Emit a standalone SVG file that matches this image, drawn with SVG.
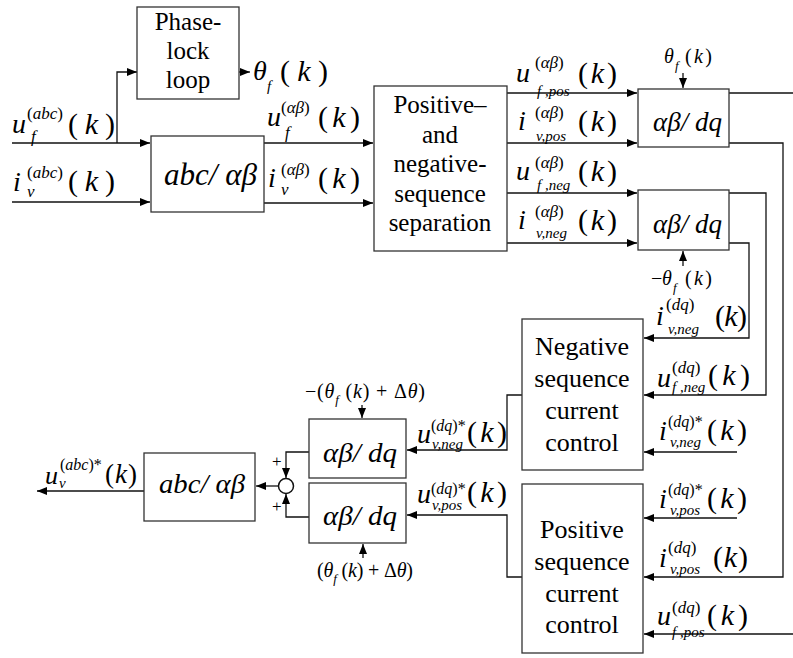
<svg xmlns="http://www.w3.org/2000/svg" width="793" height="658" viewBox="0 0 793 658">
<defs>
<marker id="ah" markerUnits="userSpaceOnUse" markerWidth="10" markerHeight="8" refX="10" refY="4" orient="auto">
<path d="M0,0 L10,4 L0,8 z" fill="#000"/>
</marker>
</defs>

<g id="connectors" fill="none" stroke="#111" stroke-width="1.3">
<g marker-end="url(#ah)">
<path d="M12,143 H150"/>
<path d="M117,143 V72 H137"/>
<path d="M12,202 H150"/>
<path d="M239,72 H250"/>
<path d="M264,143 H373"/>
<path d="M264,203 H373"/>
<path d="M507,93 H637"/>
<path d="M507,143 H637"/>
<path d="M507,193 H637"/>
<path d="M507,243 H637"/>
<path d="M683,73 V88"/>
<path d="M683,266 V251"/>
<path d="M729,143 H783 V577 H644"/>
<path d="M729,193 H766 V395 H644"/>
<path d="M729,243 H749 V338 H644"/>
<path d="M737,452 H644"/>
<path d="M737,518 H644"/>
<path d="M793,634 H644"/>
<path d="M522,395 H507 V450 H407"/>
<path d="M522,577 H507 V515 H407"/>
<path d="M362,405 V418"/>
<path d="M363,558 V544"/>
<path d="M309,452 H286 V478"/>
<path d="M309,517 H286 V494"/>
<path d="M278,486 H256"/>
<path d="M144,491 H37"/>
</g>
<path d="M729,93 H793"/>
</g>

<g id="pll">
<rect fill="#fff" stroke="#333" stroke-width="1.3" x="137" y="7" width="102" height="92"/>
<text font-family="serif" font-size="25" text-anchor="middle" x="188" y="30">Phase-</text>
<text font-family="serif" font-size="25" text-anchor="middle" x="188" y="59">lock</text>
<text font-family="serif" font-size="25" text-anchor="middle" x="188" y="88">loop</text>
</g>

<g id="abc1">
<rect fill="#fff" stroke="#333" stroke-width="1.3" x="151" y="136" width="113" height="76"/>
<text font-family="serif" font-style="italic" x="164" y="185" font-size="32" textLength="93" lengthAdjust="spacingAndGlyphs">abc/ αβ</text>
</g>

<g id="sep">
<rect fill="#fff" stroke="#333" stroke-width="1.3" x="374" y="86" width="133" height="165"/>
<text font-family="serif" font-size="25" text-anchor="middle" x="440" y="113">Positive–</text>
<text font-family="serif" font-size="25" text-anchor="middle" x="440" y="142.5">and</text>
<text font-family="serif" font-size="25" text-anchor="middle" x="440" y="172">negative-</text>
<text font-family="serif" font-size="25" text-anchor="middle" x="440" y="201.5">sequence</text>
<text font-family="serif" font-size="25" text-anchor="middle" x="440" y="231">separation</text>
</g>

<g id="dq1">
<rect fill="#fff" stroke="#333" stroke-width="1.3" x="638" y="89" width="91" height="58"/>
<text font-family="serif" font-style="italic" x="653" y="131" font-size="27" textLength="69" lengthAdjust="spacingAndGlyphs">αβ/ dq</text>
</g>
<g id="dq2">
<rect fill="#fff" stroke="#333" stroke-width="1.3" x="638" y="190" width="91" height="60"/>
<text font-family="serif" font-style="italic" x="653" y="233" font-size="27" textLength="69" lengthAdjust="spacingAndGlyphs">αβ/ dq</text>
</g>

<g id="negcc">
<rect fill="#fff" stroke="#333" stroke-width="1.3" x="522" y="319" width="121" height="151"/>
<text font-family="serif" font-size="26" text-anchor="middle" x="582" y="355">Negative</text>
<text font-family="serif" font-size="26" text-anchor="middle" x="582" y="387">sequence</text>
<text font-family="serif" font-size="26" text-anchor="middle" x="582" y="419">current</text>
<text font-family="serif" font-size="26" text-anchor="middle" x="582" y="451">control</text>
</g>
<g id="poscc">
<rect fill="#fff" stroke="#333" stroke-width="1.3" x="522" y="484" width="121" height="169"/>
<text font-family="serif" font-size="26" text-anchor="middle" x="582" y="538">Positive</text>
<text font-family="serif" font-size="26" text-anchor="middle" x="582" y="570">sequence</text>
<text font-family="serif" font-size="26" text-anchor="middle" x="582" y="602">current</text>
<text font-family="serif" font-size="26" text-anchor="middle" x="582" y="633">control</text>
</g>

<g id="dq3">
<rect fill="#fff" stroke="#333" stroke-width="1.3" x="309" y="419" width="97" height="59"/>
<text font-family="serif" font-style="italic" x="323" y="462" font-size="28" textLength="74" lengthAdjust="spacingAndGlyphs">αβ/ dq</text>
</g>
<g id="dq4">
<rect fill="#fff" stroke="#333" stroke-width="1.3" x="309" y="483" width="97" height="60"/>
<text font-family="serif" font-style="italic" x="323" y="525" font-size="28" textLength="74" lengthAdjust="spacingAndGlyphs">αβ/ dq</text>
</g>
<g id="sum">
<circle cx="286" cy="486" r="7.5" fill="#fff" stroke="#111" stroke-width="1.5"/>
<text font-family="serif" x="272" y="467" font-size="17">+</text>
<text font-family="serif" x="272" y="512" font-size="17">+</text>
</g>
<g id="abc2">
<rect fill="#fff" stroke="#333" stroke-width="1.3" x="144" y="453" width="111" height="68"/>
<text font-family="serif" font-style="italic" x="159" y="493" font-size="28" textLength="86" lengthAdjust="spacingAndGlyphs">abc/ αβ</text>
</g>

<g id="labels">
<text font-family="serif" font-style="italic" font-size="28" x="12" y="133">u</text>
<text font-family="serif" font-size="17" x="27" y="119">(<tspan font-style="italic">abc</tspan>)</text>
<text font-family="serif" font-style="italic" font-size="17" x="31" y="142">f</text>
<text font-family="serif" font-size="30" x="68" y="134" textLength="47">(<tspan font-style="italic">k</tspan>)</text>

<text font-family="serif" font-style="italic" font-size="28" x="13" y="191">i</text>
<text font-family="serif" font-size="17" x="27" y="178">(<tspan font-style="italic">abc</tspan>)</text>
<text font-family="serif" font-style="italic" font-size="17" x="27" y="197">v</text>
<text font-family="serif" font-size="30" x="68" y="191" textLength="47">(<tspan font-style="italic">k</tspan>)</text>

<text font-family="serif" font-style="italic" font-size="28" x="253" y="80">θ</text>
<text font-family="serif" font-style="italic" font-size="15" x="267" y="91">f</text>
<text font-family="serif" font-size="30" x="280" y="81" textLength="48">(<tspan font-style="italic">k</tspan>)</text>

<text font-family="serif" font-style="italic" font-size="28" x="267" y="126">u</text>
<text font-family="serif" font-size="17" x="281" y="113">(<tspan font-style="italic">αβ</tspan>)</text>
<text font-family="serif" font-style="italic" font-size="17" x="285" y="138">f</text>
<text font-family="serif" font-size="30" x="318" y="127" textLength="42">(<tspan font-style="italic">k</tspan>)</text>

<text font-family="serif" font-style="italic" font-size="28" x="268" y="187">i</text>
<text font-family="serif" font-size="17" x="281" y="175">(<tspan font-style="italic">αβ</tspan>)</text>
<text font-family="serif" font-style="italic" font-size="17" x="281" y="195">v</text>
<text font-family="serif" font-size="30" x="318" y="188" textLength="42">(<tspan font-style="italic">k</tspan>)</text>

<text font-family="serif" font-style="italic" font-size="28" x="516" y="82">u</text>
<text font-family="serif" font-size="17" x="535" y="68">(<tspan font-style="italic">αβ</tspan>)</text>
<text font-family="serif" font-style="italic" font-size="15" x="537" y="96">f ,pos</text>
<text font-family="serif" font-size="30" x="578" y="83" textLength="39">(<tspan font-style="italic">k</tspan>)</text>

<text font-family="serif" font-style="italic" font-size="28" x="518" y="130">i</text>
<text font-family="serif" font-size="17" x="535" y="118">(<tspan font-style="italic">αβ</tspan>)</text>
<text font-family="serif" font-style="italic" font-size="15" x="536" y="141">v,pos</text>
<text font-family="serif" font-size="30" x="578" y="131" textLength="39">(<tspan font-style="italic">k</tspan>)</text>

<text font-family="serif" font-style="italic" font-size="28" x="516" y="180">u</text>
<text font-family="serif" font-size="17" x="535" y="168">(<tspan font-style="italic">αβ</tspan>)</text>
<text font-family="serif" font-style="italic" font-size="15" x="537" y="190">f ,neg</text>
<text font-family="serif" font-size="30" x="578" y="181" textLength="39">(<tspan font-style="italic">k</tspan>)</text>

<text font-family="serif" font-style="italic" font-size="28" x="518" y="229">i</text>
<text font-family="serif" font-size="17" x="535" y="217">(<tspan font-style="italic">αβ</tspan>)</text>
<text font-family="serif" font-style="italic" font-size="15" x="536" y="238">v,neg</text>
<text font-family="serif" font-size="30" x="578" y="230" textLength="39">(<tspan font-style="italic">k</tspan>)</text>

<text font-family="serif" font-style="italic" font-size="20" x="664" y="63">θ</text>
<text font-family="serif" font-style="italic" font-size="13" x="675" y="70">f</text>
<text font-family="serif" font-size="20" x="685" y="63" textLength="27">(<tspan font-style="italic">k</tspan>)</text>

<text font-family="serif" font-size="20" x="651" y="285">−</text>
<text font-family="serif" font-style="italic" font-size="20" x="662" y="285">θ</text>
<text font-family="serif" font-style="italic" font-size="13" x="673" y="292">f</text>
<text font-family="serif" font-size="20" x="685" y="285" textLength="27">(<tspan font-style="italic">k</tspan>)</text>

<text font-family="serif" font-style="italic" font-size="28" x="656" y="325">i</text>
<text font-family="serif" font-size="17" x="666" y="310">(<tspan font-style="italic">dq</tspan>)</text>
<text font-family="serif" font-style="italic" font-size="15" x="668" y="334">v,neg</text>
<text font-family="serif" font-size="30" x="715" y="326" textLength="32">(<tspan font-style="italic">k</tspan>)</text>

<text font-family="serif" font-style="italic" font-size="28" x="657" y="387">u</text>
<text font-family="serif" font-size="17" x="672" y="373">(<tspan font-style="italic">dq</tspan>)</text>
<text font-family="serif" font-style="italic" font-size="15" x="672" y="392">f ,neg</text>
<text font-family="serif" font-size="30" x="708" y="385" textLength="42">(<tspan font-style="italic">k</tspan>)</text>

<text font-family="serif" font-style="italic" font-size="28" x="659" y="440">i</text>
<text font-family="serif" font-size="16" x="668" y="427">(<tspan font-style="italic">dq</tspan>)*</text>
<text font-family="serif" font-style="italic" font-size="15" x="670" y="447">v,neg</text>
<text font-family="serif" font-size="30" x="707" y="440" textLength="40">(<tspan font-style="italic">k</tspan>)</text>

<text font-family="serif" font-style="italic" font-size="28" x="659" y="508">i</text>
<text font-family="serif" font-size="16" x="668" y="495">(<tspan font-style="italic">dq</tspan>)*</text>
<text font-family="serif" font-style="italic" font-size="15" x="670" y="515">v,pos</text>
<text font-family="serif" font-size="30" x="707" y="508" textLength="40">(<tspan font-style="italic">k</tspan>)</text>

<text font-family="serif" font-style="italic" font-size="28" x="659" y="567">i</text>
<text font-family="serif" font-size="17" x="668" y="553">(<tspan font-style="italic">dq</tspan>)</text>
<text font-family="serif" font-style="italic" font-size="15" x="670" y="574">v,pos</text>
<text font-family="serif" font-size="30" x="713" y="567" textLength="35">(<tspan font-style="italic">k</tspan>)</text>

<text font-family="serif" font-style="italic" font-size="28" x="657" y="625">u</text>
<text font-family="serif" font-size="17" x="672" y="613">(<tspan font-style="italic">dq</tspan>)</text>
<text font-family="serif" font-style="italic" font-size="15" x="672" y="637">f ,pos</text>
<text font-family="serif" font-size="30" x="707" y="625" textLength="41">(<tspan font-style="italic">k</tspan>)</text>

<text font-family="serif" font-style="italic" font-size="28" x="417" y="443">u</text>
<text font-family="serif" font-size="16" x="431" y="431">(<tspan font-style="italic">dq</tspan>)*</text>
<text font-family="serif" font-style="italic" font-size="15" x="432" y="449">v,neg</text>
<text font-family="serif" font-size="30" x="467" y="442" textLength="40">(<tspan font-style="italic">k</tspan>)</text>

<text font-family="serif" font-style="italic" font-size="28" x="417" y="503">u</text>
<text font-family="serif" font-size="16" x="431" y="494">(<tspan font-style="italic">dq</tspan>)*</text>
<text font-family="serif" font-style="italic" font-size="15" x="432" y="510">v,pos</text>
<text font-family="serif" font-size="30" x="467" y="502" textLength="40">(<tspan font-style="italic">k</tspan>)</text>

<text font-family="serif" font-size="20" x="305" y="398" textLength="120">−(<tspan font-style="italic">θ</tspan><tspan font-style="italic" font-size="13" dy="6">f</tspan><tspan dy="-6"> (</tspan><tspan font-style="italic">k</tspan>) + Δ<tspan font-style="italic">θ</tspan>)</text>
<text font-family="serif" font-size="20" x="317" y="577" textLength="96">(<tspan font-style="italic">θ</tspan><tspan font-style="italic" font-size="13" dy="6">f</tspan><tspan dy="-6"> (</tspan><tspan font-style="italic">k</tspan>) + Δ<tspan font-style="italic">θ</tspan>)</text>

<text font-family="serif" font-style="italic" x="45" y="484" font-size="26">u</text>
<text font-family="serif" x="60" y="470" font-size="16">(<tspan font-style="italic">abc</tspan>)*</text>
<text font-family="serif" font-style="italic" font-size="15" x="59" y="488">v</text>
<text font-family="serif" x="105" y="483" font-size="27" textLength="32">(<tspan font-style="italic">k</tspan>)</text>
</g>
</svg>
